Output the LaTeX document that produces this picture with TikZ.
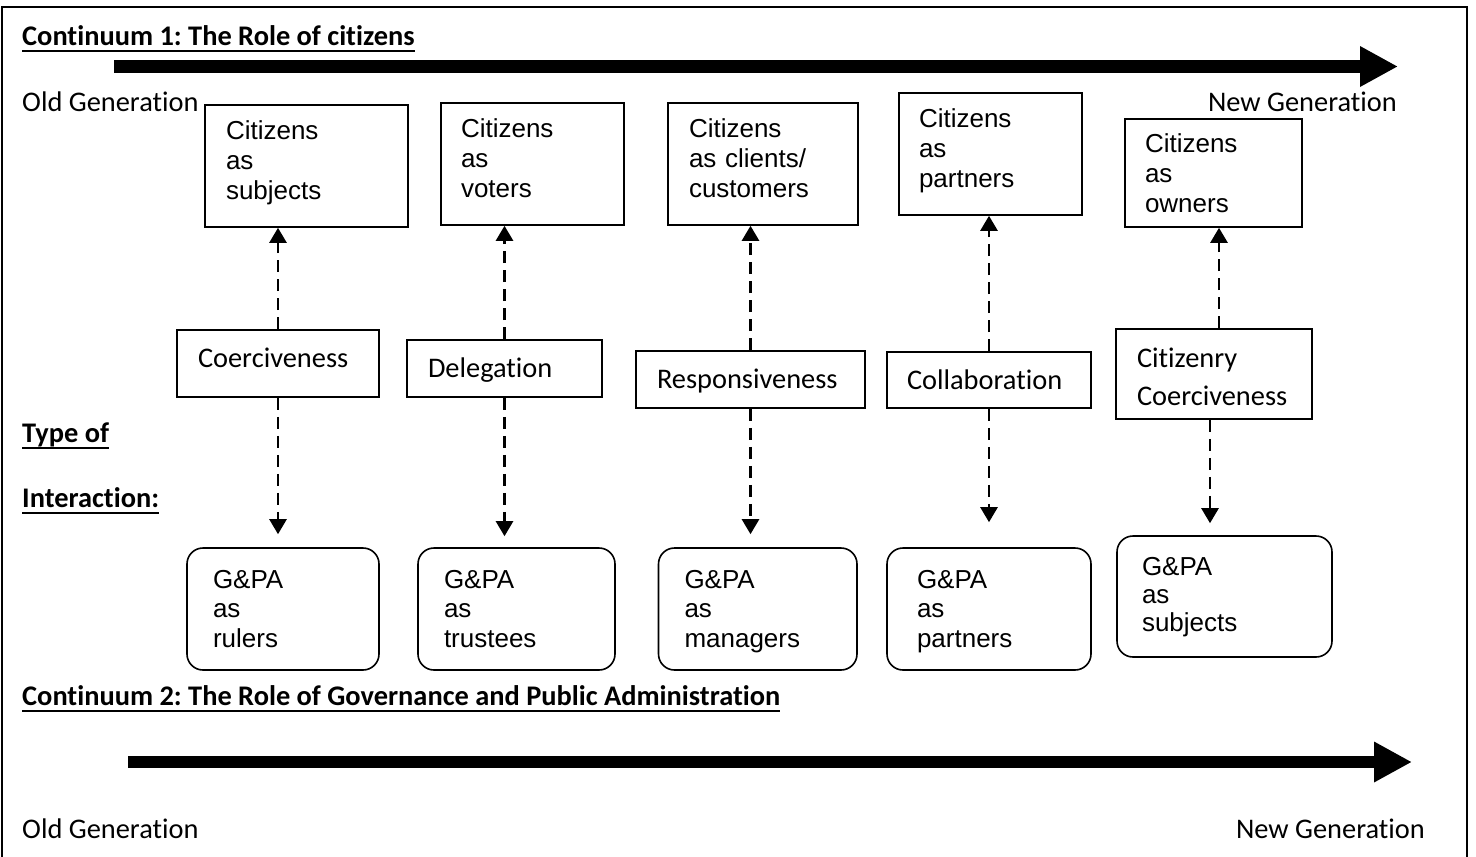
\documentclass[tikz,border=0pt]{standalone}
\usepackage{fontspec}
\setmainfont{Carlito}[Ligatures=NoCommon]
\newfontfamily\arialfont{Liberation Sans}
\usetikzlibrary{arrows.meta,calc}
\frenchspacing

\begin{document}
\begin{tikzpicture}[x=1pt, y=-1pt, >={Triangle[length=15pt,width=17pt]},
  gentext/.style={font=\fontsize{28.4}{34}\selectfont, inner sep=0pt},
  heading/.style={gentext, font=\bfseries\fontsize{28.4}{34}\selectfont, anchor=base west},
  citbox/.style={draw, line width=1.6pt, align=left, inner sep=0pt, font=\arialfont\fontsize{26}{30}\selectfont, text height=19pt, text depth=72pt},
  gpabox/.style={citbox, rounded corners=16pt, text depth=61pt, font=\arialfont\fontsize{26}{29.5}\selectfont},
  typebox/.style={draw, line width=1.6pt, align=left, inner sep=0pt, font=\fontsize{28.4}{38}\selectfont, text height=19pt, text depth=1pt},
  linkarrow/.style={->, line width=2.6pt, dash pattern=on 12pt off 7pt},
  bigarrow/.style={-{Triangle[length=38pt,width=38pt]}}]
  \useasboundingbox (0,0) rectangle (1476,857);
  \draw[line width=1.5pt] (2,857) |- (1467,7) -- (1467,857);

  % headings
  \node[heading] (head1) at (22,45) {Continuum 1: The Role of citizens};
  \node[heading] (type1) at (22,442) {Type of};
  \node[heading] (type2) at (22,507) {Interaction:};
  \node[heading] (head2) at (22,705) {Continuum 2: The Role of Governance and Public Administration};
  \foreach \n in {head1,type1,type2,head2}
    \draw[line width=1.8pt] ([yshift=-6pt]\n.base west) -- ([yshift=-6pt]\n.base east);

  \node[gentext, anchor=base west] (old1) at (22,111) {Old Generation};
  \node[gentext, anchor=base east] (new1) at (1397,111) {New Generation};
  \node[gentext, anchor=base west] (old2) at (22,838) {Old Generation};
  \node[gentext, anchor=base east] (new2) at (1425,838) {New Generation};

  % the two continua
  \coordinate (c1start) at (114,66.5);
  \coordinate (c1end) at (1398,66.5);
  \draw[bigarrow, line width=13pt] (c1start) -- (c1end);
  \coordinate (c2start) at (128,762);
  \coordinate (c2end) at (1412,762);
  \draw[bigarrow, line width=12pt] (c2start) -- (c2end);

  % roles of citizens
  \node[citbox, minimum width=203pt, minimum height=122pt, text width=161pt] (cit1) at (306.5,166) {Citizens\\as\\subjects};
  \node[citbox, minimum width=183pt, minimum height=122pt, text width=143pt] (cit2) at (532.5,164) {Citizens\\as\\voters};
  \node[citbox, minimum width=190pt, minimum height=122pt, text width=148pt] (cit3) at (763,164) {Citizens\\as clients/\\customers};
  \node[citbox, minimum width=183pt, minimum height=122pt, text width=143pt] (cit4) at (990.5,154) {Citizens\\as\\partners};
  \node[citbox, minimum width=177pt, minimum height=108pt, text width=137pt, text depth=61pt] (cit5) at (1213.5,173) {Citizens\\as\\owners};

  % types of interaction
  \node[typebox, minimum width=202pt, minimum height=67pt, text width=160pt, text depth=12pt] (mid1) at (278,363.5) {Coerciveness};
  \node[typebox, minimum width=195pt, minimum height=57pt, text width=153pt] (mid2) at (504.5,368.5) {Delegation};
  \node[typebox, minimum width=229pt, minimum height=57pt, text width=187pt] (mid3) at (750.5,379.5) {Responsiveness};
  \node[typebox, minimum width=204pt, minimum height=56pt, text width=164pt] (mid4) at (989,380) {Collaboration};
  \node[typebox, minimum width=196pt, minimum height=90pt, text width=154pt, text depth=33pt] (mid5) at (1214,374) {Citizenry\\Coerciveness};

  % roles of G&PA
  \node[gpabox, minimum width=192pt, minimum height=122pt, text width=140pt] (gpa1) at (283,609) {G\&PA\\as\\rulers};
  \node[gpabox, minimum width=197pt, minimum height=122pt, text width=145pt] (gpa2) at (516.5,609) {G\&PA\\as\\trustees};
  \node[gpabox, minimum width=198.5pt, minimum height=122pt, text width=146.5pt] (gpa3) at (757.75,609) {G\&PA\\as\\managers};
  \node[gpabox, minimum width=204pt, minimum height=122pt, text width=144pt] (gpa4) at (989,609) {G\&PA\\as\\partners};
  \node[gpabox, minimum width=215pt, minimum height=121pt, text width=165pt, font=\arialfont\fontsize{26}{28}\selectfont] (gpa5) at (1224.5,596.5) {G\&PA\\as\\subjects};

  \foreach \i/\up/\dn/\gap in {1/0/0/13, 2/0/0/11, 3/0/0/13, 4/0/0/25, 5/5/-4/12} {
    \draw[linkarrow] ([xshift=\up pt]mid\i.north) -- ([xshift=\up pt]mid\i.north |- cit\i.south);
    \draw[linkarrow] ([xshift=\dn pt]mid\i.south) -- ($([xshift=\dn pt]mid\i.south |- gpa\i.north) + (0,-\gap)$);
  }
\end{tikzpicture}
\end{document}
